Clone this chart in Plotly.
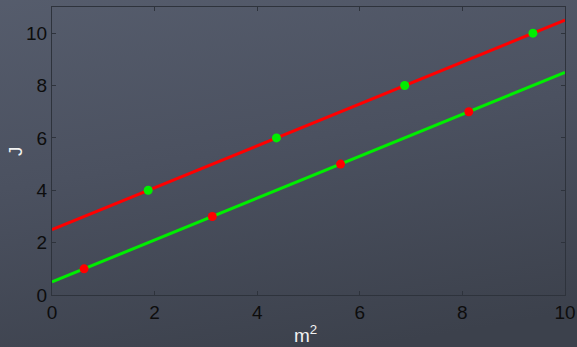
import plotly.graph_objects as go

# Data
line_x = [0, 10]
red_line_y = [2.5, 10.5]
green_line_y = [0.5, 8.5]
green_pts_x = [1.875, 4.375, 6.875, 9.375]
green_pts_y = [4, 6, 8, 10]
red_pts_x = [0.625, 3.125, 5.625, 8.125]
red_pts_y = [1, 3, 5, 7]
x_ticks = [0, 2, 4, 6, 8, 10]
y_ticks = [0, 2, 4, 6, 8, 10]

RED = "#ff0000"
GREEN = "#00ee00"

fig = go.Figure()
fig.add_trace(go.Scatter(x=line_x, y=red_line_y, mode="lines",
                         line=dict(color=RED, width=3), showlegend=False))
fig.add_trace(go.Scatter(x=line_x, y=green_line_y, mode="lines",
                         line=dict(color=GREEN, width=3), showlegend=False))
fig.add_trace(go.Scatter(x=green_pts_x, y=green_pts_y, mode="markers",
                         marker=dict(color=GREEN, size=9), showlegend=False))
fig.add_trace(go.Scatter(x=red_pts_x, y=red_pts_y, mode="markers",
                         marker=dict(color=RED, size=9), showlegend=False))

svg = ("data:image/svg+xml;utf8,<svg xmlns='http://www.w3.org/2000/svg' width='100' height='100' preserveAspectRatio='none'>"
       "<defs><linearGradient id='g' x1='0' y1='0' x2='0.3' y2='1'>"
       "<stop offset='0' stop-color='%23575e6e'/><stop offset='0.5' stop-color='%234b5160'/>"
       "<stop offset='1' stop-color='%233c414c'/></linearGradient></defs>"
       "<rect width='100' height='100' fill='url(%23g)'/></svg>")

fig.add_layout_image(dict(source=svg, xref="paper", yref="paper", x=-0.2, y=1.1,
                          sizex=1.4, sizey=1.4, sizing="stretch", layer="below",
                          xanchor="left", yanchor="top"))

axis_common = dict(showgrid=False, zeroline=False, showline=True, linecolor="#2e333c",
                   linewidth=1, mirror="ticks", ticks="inside", ticklen=4,
                   tickcolor="#2e333c", automargin=False,
                   tickfont=dict(family="Liberation Sans, Arial", size=19, color="#0d0d0d"))

fig.update_layout(
    width=577, height=347,
    margin=dict(l=52, r=12, t=7, b=52),
    paper_bgcolor="#474d59",
    plot_bgcolor="rgba(0,0,0,0)",
    xaxis=dict(range=[0, 10], tickvals=x_ticks, **axis_common),
    yaxis=dict(range=[0, 11], tickvals=y_ticks, **axis_common),
    annotations=[
        dict(text="m<sup>2</sup>", xref="paper", yref="paper", x=0.494, y=-0.135,
             yanchor="middle", xanchor="center", showarrow=False,
             font=dict(family="Liberation Sans, Arial", size=19, color="#f2f2f2")),
        dict(text="J", xref="paper", yref="paper", x=-0.072, y=0.5,
             xanchor="center", yanchor="middle", textangle=-90, showarrow=False,
             font=dict(family="Liberation Sans, Arial", size=19, color="#f2f2f2")),
    ],
)

fig.write_html("out.html", config={"displayModeBar": False},
               post_script="document.body.style.margin='0';document.body.style.overflow='hidden';")
